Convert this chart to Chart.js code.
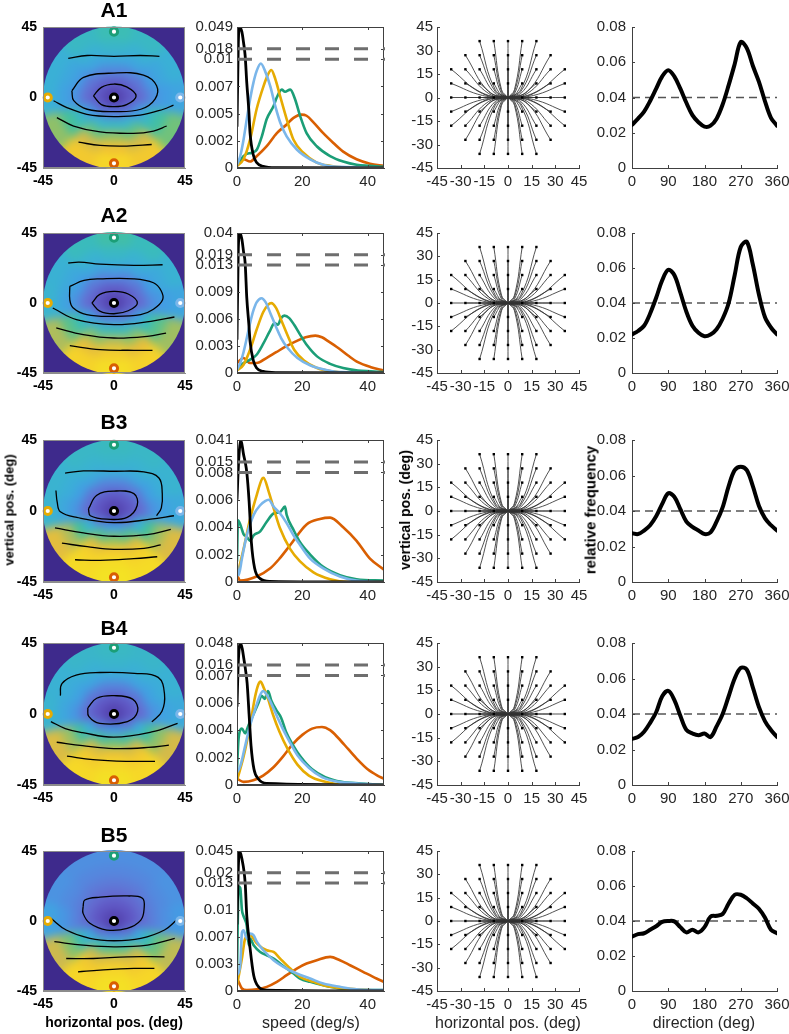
<!DOCTYPE html>
<html>
<head>
<meta charset="utf-8">
<script src="https://cdn.jsdelivr.net/npm/chart.js@4.4.0/dist/chart.umd.min.js"></script>
<style>
  html, body { margin: 0; padding: 0; background: #fff; }
  #fig { position: relative; width: 789px; height: 1034px; overflow: hidden;
         font-family: "Liberation Sans", Arial, Helvetica, sans-serif; }
  #fig canvas { position: absolute; }
  .lbl { position: absolute; white-space: nowrap; color: #000; }
  .ttl { font-size: 21px; font-weight: bold; transform: translate(-50%, -50%); }
  .xl  { font-size: 16px; color: #262626; transform: translate(-50%, -50%); }
  .yl  { font-size: 14px; font-weight: bold; transform: translate(-50%, -50%) rotate(-90deg); }
</style>
</head>
<body>
<div id="fig"></div>
<script>
// ---------------- values ----------------
const rowNames = ['A1', 'A2', 'B3', 'B4', 'B5'];

// column 1: heat map on a polar grid (12 sectors of 30 deg, 0 = right, counter-clockwise)
const sectorAngles = [0, 30, 60, 90, 120, 150, 180, 210, 240, 270, 300, 330];
const ringOuter = [14, 21, 28, 36, 45];
const centerRadius = 7;
const heatCenter = [0.02, 0.02, 0.02, 0.02, 0.02];
const heatA1 = [
  [0.09,0.10,0.11,0.12,0.11,0.10,0.09,0.13,0.18,0.22,0.18,0.13],
  [0.16,0.18,0.21,0.23,0.21,0.18,0.16,0.27,0.38,0.42,0.38,0.27],
  [0.24,0.27,0.31,0.33,0.31,0.27,0.25,0.42,0.56,0.62,0.56,0.41],
  [0.28,0.32,0.37,0.40,0.37,0.32,0.30,0.52,0.72,0.80,0.72,0.50],
  [0.31,0.36,0.42,0.46,0.42,0.36,0.36,0.62,0.84,0.90,0.84,0.58]
];
const heatA2 = [
  [0.09,0.10,0.11,0.12,0.11,0.10,0.09,0.14,0.20,0.24,0.20,0.14],
  [0.16,0.18,0.21,0.24,0.21,0.18,0.16,0.29,0.41,0.46,0.41,0.29],
  [0.24,0.28,0.32,0.35,0.32,0.28,0.25,0.45,0.61,0.68,0.61,0.45],
  [0.28,0.33,0.38,0.42,0.38,0.33,0.31,0.55,0.77,0.85,0.77,0.55],
  [0.31,0.37,0.44,0.49,0.44,0.37,0.38,0.66,0.88,0.93,0.88,0.64]
];
const heatB3 = [
  [0.08,0.09,0.10,0.10,0.10,0.09,0.08,0.16,0.26,0.30,0.26,0.16],
  [0.16,0.18,0.20,0.21,0.20,0.18,0.16,0.36,0.54,0.60,0.54,0.36],
  [0.25,0.29,0.32,0.34,0.32,0.29,0.26,0.52,0.76,0.82,0.76,0.52],
  [0.30,0.35,0.38,0.40,0.38,0.35,0.32,0.66,0.88,0.92,0.88,0.64],
  [0.33,0.38,0.41,0.43,0.41,0.38,0.38,0.76,0.92,0.95,0.92,0.74]
];
const heatB4 = [
  [0.08,0.09,0.10,0.10,0.10,0.09,0.08,0.15,0.24,0.28,0.24,0.15],
  [0.16,0.18,0.20,0.21,0.20,0.18,0.16,0.34,0.50,0.56,0.50,0.34],
  [0.25,0.29,0.31,0.33,0.31,0.29,0.26,0.50,0.72,0.78,0.72,0.50],
  [0.30,0.34,0.37,0.39,0.37,0.34,0.32,0.64,0.85,0.90,0.85,0.62],
  [0.33,0.37,0.40,0.42,0.40,0.37,0.38,0.74,0.91,0.94,0.91,0.72]
];
const heatB5 = [
  [0.08,0.08,0.09,0.09,0.09,0.08,0.08,0.14,0.22,0.26,0.22,0.14],
  [0.15,0.15,0.15,0.15,0.15,0.15,0.15,0.32,0.48,0.54,0.48,0.32],
  [0.20,0.20,0.19,0.19,0.19,0.20,0.21,0.46,0.70,0.76,0.70,0.46],
  [0.24,0.23,0.22,0.22,0.22,0.23,0.26,0.60,0.84,0.90,0.84,0.58],
  [0.27,0.25,0.24,0.24,0.24,0.25,0.30,0.70,0.90,0.94,0.90,0.68]
];

// column 1: contour lines, [x, y] in deg
const contA1 = [
  [[-29,25],[-17,26.8],[0,26.3],[16.6,26.8],[28.8,26.3]],
  [[-26.7,4.3],[-19.3,12.8],[0,15.6],[18.7,14.3],[27,7.5],[26,-1],[17,-7.5],[0,-9],[-17,-7.5],[-25.5,-2],[-26.7,4.3]],
  [[-13,1],[-8,6.5],[0,8.6],[8,6.8],[14,1],[8,-4.5],[0,-5.8],[-8,-4.5],[-13,1]],
  [[-38.3,-2.1],[-29.9,-6.4],[-17.2,-10.7],[0,-12.2],[16.6,-11.3],[31.3,-7.5],[37.7,-4.9]],
  [[-36.2,-12.8],[-25.6,-18.2],[-8.8,-22],[12.3,-22.9],[25,-21.4],[33.4,-18.2]],
  [[-22.5,-28.5],[-8.8,-30.6],[8.1,-31],[23.9,-30]]
];
const contA2 = [
  [[-29,25.7],[-22,26.3],[-8.8,25],[12.6,24.2],[30.8,24.6]],
  [[-28,10.7],[-19,14.5],[-8.8,15.5],[12.6,15.5],[25,13],[29.8,8],[30.8,2.1],[25,-4],[16.9,-7.5],[0,-8.6],[-17.3,-7.5],[-26,-3],[-28,2],[-28,10.7]],
  [[-14,0],[-9,5.5],[0,7.5],[9,5.8],[14.8,0],[9,-5],[0,-6.9],[-9,-5.2],[-14,0]],
  [[-38.8,-3.2],[-23.8,-10.7],[0,-13.9],[23.3,-11.8],[38.3,-9]],
  [[-36.6,-16],[-19.5,-20.3],[0,-22.5],[21.2,-21.4],[33,-19.3]],
  [[-28,-27.4],[-8.8,-30],[12.6,-30.4],[24.4,-30.4]]
];
const contB3 = [
  [[-31,24],[-19.4,25.4],[0,25.2],[18.9,24.8],[28.5,20.9],[30.6,11],[30,2],[27,-3]],
  [[-16.2,1.3],[-10.9,10],[0,12.6],[12.6,11],[14.7,3.5],[8.3,-4],[-4.5,-5.2],[-15,-3],[-16.2,1.3]],
  [[-36.8,13],[-36,5.6],[-34,-0.5],[-23.6,-4.1],[0,-7.4],[23.2,-5.2],[38,-3]],
  [[-37.4,-10.7],[-19.4,-13.9],[0,-16],[21,-15],[36,-11.7]],
  [[-33,-20.4],[-17,-22.6],[0,-24.3],[19,-23.7],[29.6,-21.5]],
  [[-24.7,-30.9],[-8.7,-31.3],[12.6,-30.2],[27.4,-29]]
];
const contB4 = [
  [[-34,11.6],[-33,19.3],[-24,24.7],[-9,26.3],[12.9,25.8],[28,23.2],[32,12.7],[30.4,1.8],[24,-5]],
  [[-16.6,3.9],[-11,10],[0,11.6],[11.8,9.4],[15,1.8],[8.5,-4.8],[-9,-5.9],[-16,-1.5],[-16.6,3.9]],
  [[-40,-4.8],[-30.9,-9.2],[-19.9,-11.8],[0,-14.7],[23.9,-11.4],[40.3,-5.9]],
  [[-36.3,-17.9],[-19.9,-20.1],[0,-21.9],[21.7,-21.2],[34.8,-19.7]],
  [[-29.8,-26.7],[-13.3,-28.9],[8.5,-30],[26,-30]]
];
const contB5 = [
  [[-19.6,9.2],[-18.5,13.5],[-8.8,15.3],[8.4,16.1],[18,14.6],[19.1,8.2],[17,0.6],[8.4,-4.7],[-4.5,-5.8],[-15.3,-1.5],[-19.6,4.9],[-19.6,9.2]],
  [[-40,1.7],[-30.3,-5.8],[-15.3,-11.2],[0,-12.7],[17,-11.2],[32,-5.8],[40.2,1.1]],
  [[-37.8,-13.3],[-19.6,-15.5],[0,-16.6],[21.3,-15.5],[38.5,-11.2]],
  [[-30.3,-24.1],[-13.1,-24.1],[8.4,-23],[32,-23]],
  [[-22.8,-32.7],[-8.8,-31.6],[12.7,-30.5],[25.6,-30.5]]
];

// column 1: target markers (center + 4 targets)
const markerX = [0, -42, 42, 0, 0];
const markerY = [42, 0, 0, -42, 0];

// column 2: speed distributions, [speed, density]
const speedA1Black  = [[0,0.0038],[0.4,0.025],[0.8,0.049],[1.5,0.042],[2,0.027],[2.5,0.0125],[3,0.0078],[3.6,0.0054],[4,0.0032],[5,0.0012],[6,0.0005],[8,0.00015],[12,0.00003],[45,0]];
const speedA1Blue   = [[0,0.0003],[1,0.0011],[2,0.0026],[3,0.0045],[4,0.0063],[5,0.0078],[6,0.0089],[7.3,0.0096],[8.6,0.0089],[10.2,0.0075],[11.7,0.0057],[13.2,0.0042],[15.2,0.0029],[18.3,0.0017],[22.4,0.0008],[26.4,0.0003],[31.5,0.0001],[45,0]];
const speedA1Yellow = [[0,0.0002],[2,0.0008],[4,0.0026],[6,0.0054],[8.1,0.0075],[9.5,0.0086],[10.5,0.009],[11.7,0.0082],[13.2,0.0066],[15.2,0.0045],[17.3,0.0026],[20.3,0.0014],[24.4,0.0005],[28.5,0.0002],[35,0],[45,0]];
const speedA1Green  = [[0,0.0002],[2,0.0011],[3,0.0013],[4.6,0.0014],[6.1,0.0017],[7.6,0.0029],[9.1,0.0045],[11.2,0.0057],[12.2,0.0065],[13.7,0.0072],[14.7,0.007],[16.3,0.0072],[17.8,0.0063],[19.3,0.0048],[21.3,0.0032],[24.4,0.002],[28.5,0.0011],[32.5,0.0006],[36.6,0.0003],[40.7,0.0002],[45,0.0001]];
const speedA1Orange = [[0,0.0002],[2,0.0008],[4,0.0006],[6.1,0.0011],[9.1,0.002],[12.2,0.0032],[15.2,0.004],[17.3,0.0046],[19.8,0.0049],[21.3,0.0048],[23.4,0.0042],[26.4,0.0032],[29.5,0.0023],[32.5,0.0015],[36.6,0.0008],[40.7,0.0004],[45,0.0002]];

const speedA2Black  = [[0,0.004],[0.4,0.025],[0.9,0.04],[1.5,0.034],[2,0.022],[2.5,0.014],[3,0.009],[3.6,0.006],[4,0.0038],[5,0.0015],[6,0.0006],[8,0.0002],[12,0.00005],[45,0]];
const speedA2Blue   = [[0,0.0004],[1,0.0012],[2,0.0025],[3,0.0042],[4,0.006],[5,0.0075],[6,0.0085],[7.5,0.009],[8.8,0.0085],[10.3,0.0071],[12,0.0055],[13.5,0.0042],[15.5,0.003],[18.5,0.0018],[22.5,0.0009],[27,0.0004],[32,0.0001],[45,0]];
const speedA2Yellow = [[0,0.0003],[2,0.001],[4,0.0028],[6,0.0052],[8,0.0073],[9.5,0.0082],[10.5,0.0084],[12,0.0078],[13.5,0.0064],[15.5,0.0045],[17.5,0.0028],[20.5,0.0015],[24.5,0.0006],[29,0.0002],[35,0],[45,0]];
const speedA2Green  = [[0,0.0005],[2,0.0012],[4,0.0016],[6,0.0022],[8,0.0035],[10,0.005],[11.5,0.006],[12.5,0.0058],[13.5,0.0066],[14.5,0.0069],[16,0.0066],[17.5,0.0058],[19.5,0.0045],[21.5,0.0033],[24.5,0.002],[28.5,0.0011],[32.5,0.0006],[37,0.0003],[41,0.0002],[45,0.0001]];
const speedA2Orange = [[0,0.0012],[2,0.0018],[4,0.0012],[6,0.0012],[9,0.0018],[12,0.0025],[15,0.0032],[18,0.0038],[21,0.0043],[24,0.0045],[26,0.0043],[28,0.0038],[31,0.003],[34,0.0021],[37,0.0013],[41,0.0007],[45,0.0003]];

const speedB3Black  = [[0,0.006],[0.5,0.016],[1.2,0.041],[2,0.024],[2.5,0.015],[3,0.008],[3.7,0.0059],[4.4,0.0029],[5.4,0.001],[7.1,0.00025],[10,0.00005],[45,0]];
const speedB3Blue   = [[0,0.0012],[0.5,0.0005],[1.5,0.0017],[3,0.0034],[5.1,0.0049],[7.1,0.0056],[8.6,0.0059],[9.7,0.006],[11.2,0.0055],[13.2,0.005],[15.2,0.0043],[17.3,0.0034],[19.3,0.0027],[22.4,0.0017],[26.4,0.001],[31.5,0.0004],[36.6,0.0001],[45,0]];
const speedB3Yellow = [[0,0.0004],[2,0.0024],[4,0.0046],[6.1,0.0064],[7.6,0.0075],[8.1,0.0076],[9.7,0.0066],[11.2,0.0054],[13.2,0.0039],[16.3,0.0024],[19.3,0.0015],[23.4,0.0007],[28.5,0.0002],[34,0],[45,0]];
const speedB3Green  = [[0,0.0015],[0.3,0.0045],[1,0.0042],[2,0.0035],[3,0.0033],[4,0.003],[5.1,0.0034],[7.1,0.0037],[9.1,0.0044],[11.2,0.005],[13.2,0.0051],[14.7,0.0055],[15.2,0.0049],[17.3,0.0038],[19.3,0.0029],[22.4,0.002],[26.4,0.0011],[31.5,0.0005],[36.6,0.0002],[45,0.0001]];
const speedB3Orange = [[0,0.0005],[1,0.0001],[6,0.0004],[10.2,0.001],[13,0.0017],[16.3,0.0027],[21.3,0.0042],[25.4,0.0046],[28.5,0.0047],[32.5,0.004],[36.6,0.003],[40.7,0.0017],[45,0.0009]];

const speedB4Black  = [[0,0.005],[0.4,0.02],[1,0.048],[1.6,0.04],[2.1,0.025],[2.6,0.012],[3.1,0.0065],[3.7,0.0045],[4.3,0.0025],[5.2,0.001],[6.5,0.0004],[9,0.0001],[45,0]];
const speedB4Blue   = [[0,0.0008],[1,0.0012],[2.5,0.0025],[4,0.0038],[5.5,0.0048],[7,0.0057],[8,0.006],[9,0.0058],[10.5,0.0052],[12,0.0045],[14,0.0036],[16,0.0028],[18.5,0.0019],[22,0.0011],[26,0.0005],[31,0.0002],[37,0.0001],[45,0]];
const speedB4Yellow = [[0,0.0003],[2,0.0018],[4,0.0038],[5.5,0.0056],[6.5,0.0064],[7.2,0.0066],[8,0.0063],[9.5,0.0055],[11,0.0045],[13,0.0034],[15.5,0.0023],[18.5,0.0013],[22,0.0006],[27,0.0002],[33,0],[45,0]];
const speedB4Green  = [[0,0.001],[0.5,0.003],[1.5,0.0036],[2.5,0.0033],[3.5,0.0038],[5,0.0045],[6.5,0.0052],[7.5,0.0057],[8.5,0.0055],[9.5,0.006],[10.5,0.0054],[12,0.0048],[13.5,0.0043],[15,0.0034],[17,0.0026],[19.5,0.0018],[23,0.001],[27,0.0005],[32,0.0002],[38,0.0001],[45,0]];
const speedB4Orange = [[0,0.0004],[2,0.0002],[5,0.0003],[8,0.0006],[11,0.0011],[14,0.0018],[17,0.0026],[20,0.0032],[23,0.0036],[26,0.0037],[28.5,0.0035],[31,0.003],[34,0.0023],[37,0.0016],[40,0.001],[43,0.0006],[45,0.0004]];

const speedB5Black  = [[0,0.008],[0.4,0.025],[0.8,0.045],[1.5,0.036],[2.5,0.013],[3,0.009],[3.9,0.0055],[5.1,0.0019],[6.6,0.0005],[9.1,0.0001],[45,0]];
const speedB5Blue   = [[0,0.0019],[1,0.0031],[1.5,0.007],[2,0.0073],[3,0.0063],[4,0.0069],[5.1,0.0067],[6.1,0.0059],[8.1,0.0049],[11.2,0.0037],[14.2,0.0029],[18.3,0.0021],[22.4,0.0015],[26.4,0.0009],[31.5,0.0005],[36.6,0.0002],[45,0.0001]];
const speedB5Yellow = [[0,0.0007],[1.5,0.0039],[2.5,0.0063],[4,0.0067],[6.1,0.0057],[9.1,0.0049],[11.2,0.0047],[13.2,0.0039],[16.3,0.0027],[19.3,0.0017],[23.4,0.0011],[28.5,0.0005],[36.6,0.0002],[45,0]];
const speedB5Green  = [[0,0.0023],[0.5,0.0126],[1,0.0124],[1.5,0.0098],[2,0.009],[3,0.0078],[3.6,0.0055],[4,0.0063],[5.1,0.0055],[7.1,0.0047],[9.1,0.0043],[11.2,0.0039],[13.2,0.0033],[15.2,0.0027],[17.3,0.0021],[19.3,0.0015],[22.4,0.0011],[26.4,0.0007],[31.5,0.0003],[36.6,0.0001],[45,0.0001]];
const speedB5Orange = [[0,0.0015],[0.5,0.0011],[1.5,0.0003],[3,0.0001],[6.1,0.0002],[9.1,0.0005],[12.2,0.0011],[15.2,0.0019],[18.3,0.0027],[21.3,0.0033],[24.4,0.0037],[28.5,0.0041],[31.5,0.0037],[34.6,0.0031],[38.6,0.0023],[42.7,0.0015],[45,0.0011]];

// column 2: broken y axis (lower part 0..lowMax, gap up to highMin, upper part to top)
const speedLowMax  = [0.01, 0.013, 0.008, 0.007, 0.013];
const speedHighMin = [0.018, 0.019, 0.015, 0.016, 0.02];
const speedTop     = [0.049, 0.04, 0.041, 0.048, 0.045];
const speedTickLabels = [
  ['0', '0.002', '0.005', '0.007', '0.01', '0.018', '0.049'],
  ['0', '0.003', '0.006', '0.009', '0.013', '0.019', '0.04'],
  ['0', '0.002', '0.004', '0.006', '0.008', '0.015', '0.041'],
  ['0', '0.002', '0.004', '0.006', '0.007', '0.016', '0.048'],
  ['0', '0.003', '0.007', '0.01', '0.013', '0.02', '0.045']
];
const speedXTicks = [0, 20, 40];

// column 3: trajectories [targetX, targetY, bendX, bendY], all ending at (0, 0)
const starPaths = [
  [-18,36,-8.1,5],[-9,36,-4.1,5],[0,36,0,5],[9,36,4.1,5],[18,36,8.1,5],
  [-27,27,-12.2,3.8],[-18,27,-8.1,3.8],[-9,27,-4.1,3.8],[0,27,0,3.8],[9,27,4.1,3.8],[18,27,8.1,3.8],[27,27,12.2,3.8],
  [-36,18,-16.2,2.5],[-27,18,-12.2,2.5],[-18,18,-8.1,2.5],[-9,18,-4.1,2.5],[0,18,0,2.5],[9,18,4.1,2.5],[18,18,8.1,2.5],[27,18,12.2,2.5],[36,18,16.2,2.5],
  [-36,9,-16.2,1.3],[-27,9,-12.2,1.3],[-18,9,-8.1,1.3],[-9,9,-4.1,1.3],[0,9,0,1.3],[9,9,4.1,1.3],[18,9,8.1,1.3],[27,9,12.2,1.3],[36,9,16.2,1.3],
  [-36,0,-16.2,0],[-27,0,-12.2,0],[-18,0,-8.1,0],[-9,0,-4.1,0],[9,0,4.1,0],[18,0,8.1,0],[27,0,12.2,0],[36,0,16.2,0],
  [-36,-9,-16.2,-1.3],[-27,-9,-12.2,-1.3],[-18,-9,-8.1,-1.3],[-9,-9,-4.1,-1.3],[0,-9,0,-1.3],[9,-9,4.1,-1.3],[18,-9,8.1,-1.3],[27,-9,12.2,-1.3],[36,-9,16.2,-1.3],
  [-36,-18,-16.2,-2.5],[-27,-18,-12.2,-2.5],[-18,-18,-8.1,-2.5],[-9,-18,-4.1,-2.5],[0,-18,0,-2.5],[9,-18,4.1,-2.5],[18,-18,8.1,-2.5],[27,-18,12.2,-2.5],[36,-18,16.2,-2.5],
  [-27,-27,-12.2,-3.8],[-18,-27,-8.1,-3.8],[-9,-27,-4.1,-3.8],[0,-27,0,-3.8],[9,-27,4.1,-3.8],[18,-27,8.1,-3.8],[27,-27,12.2,-3.8],
  [-18,-36,-8.1,-5],[-9,-36,-4.1,-5],[0,-36,0,-5],[9,-36,4.1,-5],[18,-36,8.1,-5]
];
const posTicks = [-45, 0, 45];
const starTicks = [-45, -30, -15, 0, 15, 30, 45];

// column 4: direction histograms
const dirAngles = [0,15,30,45,60,75,90,105,120,135,150,165,180,195,210,225,240,255,270,285,300,315,330,345,360];
const dirA1 = [0.0245,0.028,0.032,0.038,0.045,0.052,0.0555,0.052,0.045,0.037,0.030,0.026,0.0235,0.024,0.028,0.036,0.047,0.059,0.0715,0.068,0.058,0.049,0.038,0.0285,0.024];
const dirA2 = [0.022,0.024,0.027,0.034,0.043,0.053,0.059,0.056,0.046,0.035,0.027,0.023,0.021,0.022,0.025,0.031,0.040,0.056,0.072,0.075,0.062,0.045,0.032,0.026,0.022];
const dirB3 = [0.0275,0.027,0.029,0.032,0.037,0.044,0.050,0.048,0.041,0.034,0.031,0.029,0.027,0.028,0.034,0.042,0.054,0.063,0.065,0.063,0.054,0.043,0.036,0.032,0.029];
const dirB4 = [0.026,0.027,0.030,0.035,0.041,0.050,0.053,0.048,0.039,0.031,0.029,0.028,0.029,0.027,0.033,0.040,0.050,0.060,0.066,0.065,0.055,0.044,0.036,0.031,0.027];
const dirB5 = [0.031,0.0325,0.033,0.035,0.037,0.0395,0.040,0.0398,0.0365,0.0335,0.035,0.0335,0.0365,0.0425,0.043,0.044,0.050,0.055,0.055,0.053,0.050,0.047,0.042,0.035,0.033];
const dirUniform = 0.04;
const dirXTicks = [0, 90, 180, 270, 360];
const dirYTicks = [0, 0.02, 0.04, 0.06, 0.08];
const dirYLabels = ['0', '0.02', '0.04', '0.06', '0.08'];

// ---------------- styling ----------------
const FONT = '"Liberation Sans", Arial, Helvetica, sans-serif';
const axisCol = '#404040';
const tickCol = '#262626';
const cBlack = '#000000', cBlue = '#7ab6ea', cYellow = '#e6ab02', cGreen = '#1b9e77', cOrange = '#d95f02';
const markerColors = [cGreen, cYellow, cBlue, cOrange, cBlack];
const bgPurple = '#3e2a8c';
const heatStops = [
  [0.00, [80, 62, 170]], [0.08, [95, 85, 195]], [0.16, [100, 110, 210]], [0.22, [85, 135, 222]],
  [0.28, [66, 158, 228]], [0.36, [58, 176, 214]], [0.45, [58, 188, 185]], [0.52, [70, 192, 155]],
  [0.60, [128, 194, 112]], [0.70, [205, 186, 78]], [0.80, [240, 192, 52]], [0.90, [246, 214, 40]],
  [1.00, [242, 238, 32]]
];

// layout: plot-area boxes in page pixels
const colLeft = [43, 237, 437, 632];
const colWidth = [142, 147, 142, 145];
const rowTop = [27, 233, 440, 643, 851];
const rowHeight = [141, 140, 142, 142, 140];
const padL = [40, 46, 36, 40];
const padR = [12, 10, 14, 12];
const PAD_T = 10, PAD_B = 24;
const FRAC_LOW = 0.772, FRAC_GAP = 0.073;

const fig = document.getElementById('fig');
const breaks = {};
const heatById = {};

function cmap(v) {
  v = Math.max(0, Math.min(1, v));
  for (let i = 1; i < heatStops.length; i++) {
    const [v1, c1] = heatStops[i];
    const [v0, c0] = heatStops[i - 1];
    if (v <= v1) {
      const t = (v - v0) / (v1 - v0);
      const c = c0.map((a, k) => Math.round(a + (c1[k] - a) * t));
      return `rgb(${c[0]},${c[1]},${c[2]})`;
    }
  }
  return 'rgb(242,238,32)';
}

// linear scale with a broken (three-piece) y range
class BrokenScale extends Chart.LinearScale {
  static id = 'broken';
  static defaults = {};
  frac(value) {
    const b = breaks[this.chart.canvas.id];
    if (value <= b.lowMax) return value / b.lowMax * FRAC_LOW;
    if (value <= b.highMin) return FRAC_LOW + (value - b.lowMax) / (b.highMin - b.lowMax) * FRAC_GAP;
    return FRAC_LOW + FRAC_GAP + (value - b.highMin) / (this.max - b.highMin) * (1 - FRAC_LOW - FRAC_GAP);
  }
  getPixelForValue(value) {
    return this.bottom - this.frac(value) * (this.bottom - this.top);
  }
  getValueForPixel(pixel) {
    const b = breaks[this.chart.canvas.id];
    const f = (this.bottom - pixel) / (this.bottom - this.top);
    if (f <= FRAC_LOW) return f / FRAC_LOW * b.lowMax;
    if (f <= FRAC_LOW + FRAC_GAP) return b.lowMax + (f - FRAC_LOW) / FRAC_GAP * (b.highMin - b.lowMax);
    return b.highMin + (f - FRAC_LOW - FRAC_GAP) / (1 - FRAC_LOW - FRAC_GAP) * (this.max - b.highMin);
  }
}
Chart.register(BrokenScale);

// inward tick marks + optional box
const inTicks = {
  id: 'inTicks',
  afterDatasetsDraw(chart, args, opts) {
    const { ctx, chartArea: a, scales: { x, y } } = chart;
    const L = opts.len || 0;
    ctx.save();
    ctx.strokeStyle = opts.color || axisCol;
    ctx.lineWidth = 1;
    ctx.beginPath();
    if (L > 0) {
      y.ticks.forEach(t => {
        const py = Math.round(y.getPixelForValue(t.value)) + 0.5;
        ctx.moveTo(a.left, py); ctx.lineTo(a.left + L, py);
        if (opts.box) { ctx.moveTo(a.right, py); ctx.lineTo(a.right - L, py); }
      });
      x.ticks.forEach(t => {
        const px = Math.round(x.getPixelForValue(t.value)) + 0.5;
        ctx.moveTo(px, a.bottom); ctx.lineTo(px, a.bottom - L);
        if (opts.box) { ctx.moveTo(px, a.top); ctx.lineTo(px, a.top + L); }
      });
    }
    ctx.stroke();
    if (opts.box) ctx.strokeRect(Math.round(a.left) + 0.5, Math.round(a.top) + 0.5, Math.round(a.width) - 1, Math.round(a.height) - 1);
    ctx.restore();
  }
};

// dashed double line marking the axis break
const breakMarks = {
  id: 'breakMarks',
  afterDatasetsDraw(chart) {
    const b = breaks[chart.canvas.id];
    if (!b) return;
    const { ctx, chartArea: a, scales: { y } } = chart;
    ctx.save();
    ctx.strokeStyle = '#6e6e6e';
    ctx.lineWidth = 3;
    ctx.setLineDash([14, 15]);
    [b.lowMax, b.highMin].forEach(v => {
      const py = y.getPixelForValue(v);
      ctx.beginPath();
      ctx.moveTo(a.left + 1, py); ctx.lineTo(a.right + 1, py);
      ctx.stroke();
    });
    ctx.restore();
  }
};

// heat map drawn as polar cells positioned through the chart scales
const heatField = {
  id: 'heatField',
  beforeDatasetsDraw(chart) {
    const h = heatById[chart.canvas.id];
    if (!h) return;
    const { ctx, chartArea: a, scales: { x, y } } = chart;
    const cx = x.getPixelForValue(0), cy = y.getPixelForValue(0);
    const px = r => x.getPixelForValue(r) - cx;
    const off = document.createElement('canvas');
    off.width = chart.width; off.height = chart.height;
    const o = off.getContext('2d');
    const rad = Math.PI / 180;
    for (let ri = ringOuter.length - 1; ri >= 0; ri--) {
      const R = px(ri === ringOuter.length - 1 ? ringOuter[ri] + 8 : ringOuter[ri]);
      sectorAngles.forEach((ang, k) => {
        o.fillStyle = cmap(h.grid[ri][k]);
        o.beginPath();
        o.moveTo(cx, cy);
        o.arc(cx, cy, R, -(ang + 15.5) * rad, -(ang - 15.5) * rad);
        o.closePath();
        o.fill();
      });
    }
    o.fillStyle = cmap(h.center);
    o.beginPath(); o.arc(cx, cy, px(centerRadius), 0, 2 * Math.PI); o.fill();

    ctx.save();
    ctx.fillStyle = bgPurple;
    ctx.fillRect(a.left, a.top, a.width, a.height);
    ctx.beginPath();
    ctx.arc(cx, cy, px(45), 0, 2 * Math.PI);
    ctx.clip();
    ctx.filter = 'blur(4px)';
    ctx.drawImage(off, 0, 0);
    ctx.restore();
  }
};

function addCanvas(row, col) {
  const c = document.createElement('canvas');
  c.id = 'c' + row + col;
  const w = colWidth[col] + padL[col] + padR[col];
  const h = rowHeight[row] + PAD_T + PAD_B;
  c.width = w; c.height = h;
  c.style.left = (colLeft[col] - padL[col]) + 'px';
  c.style.top = (rowTop[row] - PAD_T) + 'px';
  c.style.width = w + 'px';
  c.style.height = h + 'px';
  fig.appendChild(c);
  return c;
}

function tickFont(bold) {
  return { family: FONT, size: bold ? 14 : 15, weight: bold ? 'bold' : 'normal' };
}

function xAxis(col, min, max, vals, labels, bold) {
  return {
    type: 'linear', min, max,
    grid: { display: false, drawTicks: false },
    border: { display: true, color: col === 0 ? '#8c8c8c' : axisCol, width: 1 },
    ticks: { autoSkip: false, maxRotation: 0, minRotation: 0, padding: 5,
             color: bold ? '#000' : tickCol, font: tickFont(bold), callback: (v, i) => labels[i] },
    afterBuildTicks: s => { s.ticks = vals.map(v => ({ value: v })); },
    afterFit: s => { s.height = PAD_B; s.paddingLeft = 0; s.paddingRight = 0; }
  };
}

function yAxis(col, type, min, max, vals, labels, bold) {
  return {
    type, min, max,
    grid: { display: false, drawTicks: false },
    border: { display: true, color: col === 0 ? '#8c8c8c' : axisCol, width: 1 },
    ticks: { autoSkip: false, padding: col === 1 || col === 2 ? 4 : 6,
             color: bold ? '#000' : tickCol, font: tickFont(bold), callback: (v, i) => labels[i] },
    afterBuildTicks: s => { s.ticks = vals.map(v => ({ value: v })); },
    afterFit: s => { s.width = padL[col]; s.paddingTop = 0; s.paddingBottom = 0; }
  };
}

function baseOptions(col, x, y, pluginOpts) {
  return {
    responsive: false, animation: false, devicePixelRatio: 1, events: [],
    layout: { padding: { top: PAD_T, right: padR[col], left: 0, bottom: 0 } },
    plugins: Object.assign({ legend: { display: false }, tooltip: { enabled: false } }, pluginOpts),
    scales: { x, y }
  };
}

const pts = arr => arr.map(([x, y]) => ({ x, y }));
const posLabels = posTicks.map(String);
const starLabels = starTicks.map(String);

const heatRows = [heatA1, heatA2, heatB3, heatB4, heatB5];
const contRows = [contA1, contA2, contB3, contB4, contB5];
const speedRows = [
  [speedA1Black, speedA1Blue, speedA1Yellow, speedA1Green, speedA1Orange],
  [speedA2Black, speedA2Blue, speedA2Yellow, speedA2Green, speedA2Orange],
  [speedB3Black, speedB3Blue, speedB3Yellow, speedB3Green, speedB3Orange],
  [speedB4Black, speedB4Blue, speedB4Yellow, speedB4Green, speedB4Orange],
  [speedB5Black, speedB5Blue, speedB5Yellow, speedB5Green, speedB5Orange]
];
const speedColors = [cBlack, cBlue, cYellow, cGreen, cOrange];
const dirRows = [dirA1, dirA2, dirB3, dirB4, dirB5];

rowNames.forEach((name, r) => {
  // ---- column 1: heat map ----
  const c1 = addCanvas(r, 0);
  heatById[c1.id] = { grid: heatRows[r], center: heatCenter[r] };
  const contourSets = contRows[r].map(line => ({
    data: pts(line), borderColor: '#000', borderWidth: 1.3, tension: 0.4, pointRadius: 0
  }));
  new Chart(c1, {
    type: 'line',
    data: {
      datasets: [{
        data: markerX.map((x, i) => ({ x, y: markerY[i] })), showLine: false, clip: false,
        pointRadius: 3.6, pointBorderWidth: 3, pointBackgroundColor: '#fff', pointBorderColor: markerColors
      }].concat(contourSets)
    },
    options: baseOptions(0,
      xAxis(0, -45, 45, posTicks, posLabels, true),
      yAxis(0, 'linear', -45, 45, posTicks, posLabels, true),
      { inTicks: { box: true, len: 0, color: '#8c8c8c' } }),
    plugins: [heatField, inTicks]
  });

  // ---- column 2: speed distributions ----
  const c2 = addCanvas(r, 1);
  const lowMax = speedLowMax[r];
  breaks[c2.id] = { lowMax, highMin: speedHighMin[r] };
  const yVals = [0, lowMax / 4, lowMax / 2, lowMax * 3 / 4, lowMax, speedHighMin[r], speedTop[r]];
  new Chart(c2, {
    type: 'line',
    data: {
      datasets: speedRows[r].map((s, i) => ({
        data: pts(s), borderColor: speedColors[i], borderWidth: i === 0 ? 2.8 : 2.6,
        cubicInterpolationMode: 'monotone', pointRadius: 0
      }))
    },
    options: baseOptions(1,
      xAxis(1, 0, 45, speedXTicks, speedXTicks.map(String), false),
      yAxis(1, 'broken', 0, speedTop[r], yVals, speedTickLabels[r], false),
      { inTicks: { box: true, len: 3 } }),
    plugins: [inTicks, breakMarks]
  });

  // ---- column 3: trajectories ----
  const c3 = addCanvas(r, 2);
  const pathSets = starPaths.map(p => ({
    data: [{ x: p[0], y: p[1] }, { x: p[2], y: p[3] }, { x: 0, y: 0 }],
    borderColor: '#333', borderWidth: 0.85, tension: 0.45, pointRadius: 0
  }));
  new Chart(c3, {
    type: 'line',
    data: {
      datasets: [{
        data: starPaths.map(p => ({ x: p[0], y: p[1] })), showLine: false,
        pointStyle: 'rect', pointRadius: 1.7, pointBackgroundColor: '#000', pointBorderWidth: 0
      }].concat(pathSets)
    },
    options: baseOptions(2,
      xAxis(2, -45, 45, starTicks, starLabels, false),
      yAxis(2, 'linear', -45, 45, starTicks, starLabels, false),
      { inTicks: { box: false, len: 3 } }),
    plugins: [inTicks]
  });

  // ---- column 4: direction ----
  const c4 = addCanvas(r, 3);
  new Chart(c4, {
    type: 'line',
    data: {
      datasets: [
        { data: dirAngles.map((a, i) => ({ x: a, y: dirRows[r][i] })), borderColor: '#000',
          borderWidth: 4, tension: 0.35, pointRadius: 0, borderCapStyle: 'round', borderJoinStyle: 'round' },
        { data: [{ x: 0, y: dirUniform }, { x: 360, y: dirUniform }], borderColor: '#555',
          borderWidth: 1.3, borderDash: [8, 5], pointRadius: 0 }
      ]
    },
    options: baseOptions(3,
      xAxis(3, 0, 360, dirXTicks, dirXTicks.map(String), false),
      yAxis(3, 'linear', 0, 0.08, dirYTicks, dirYLabels, false),
      { inTicks: { box: false, len: 3 } }),
    plugins: [inTicks]
  });
});

// ---------------- text ----------------
function addText(cls, text, x, y, extra) {
  const d = document.createElement('div');
  d.className = 'lbl ' + cls;
  d.textContent = text;
  d.style.left = x + 'px';
  d.style.top = y + 'px';
  if (extra) Object.assign(d.style, extra);
  fig.appendChild(d);
}
const titleY = [10, 215, 422, 628, 835];
rowNames.forEach((n, r) => addText('ttl', n, 114, titleY[r]));
addText('yl', 'vertical pos. (deg)', 9, 510, { fontSize: '13px' });
addText('yl', 'vertical pos. (deg)', 405, 510, { fontSize: '14px' });
addText('yl', 'relative frequency', 590, 510, { fontSize: '15px' });
addText('xl', 'horizontal pos. (deg)', 114, 1022, { fontWeight: 'bold', fontSize: '14px', color: '#000' });
addText('xl', 'speed (deg/s)', 311, 1023);
addText('xl', 'horizontal pos. (deg)', 508, 1023);
addText('xl', 'direction (deg)', 704, 1023);
</script>
</body>
</html>
